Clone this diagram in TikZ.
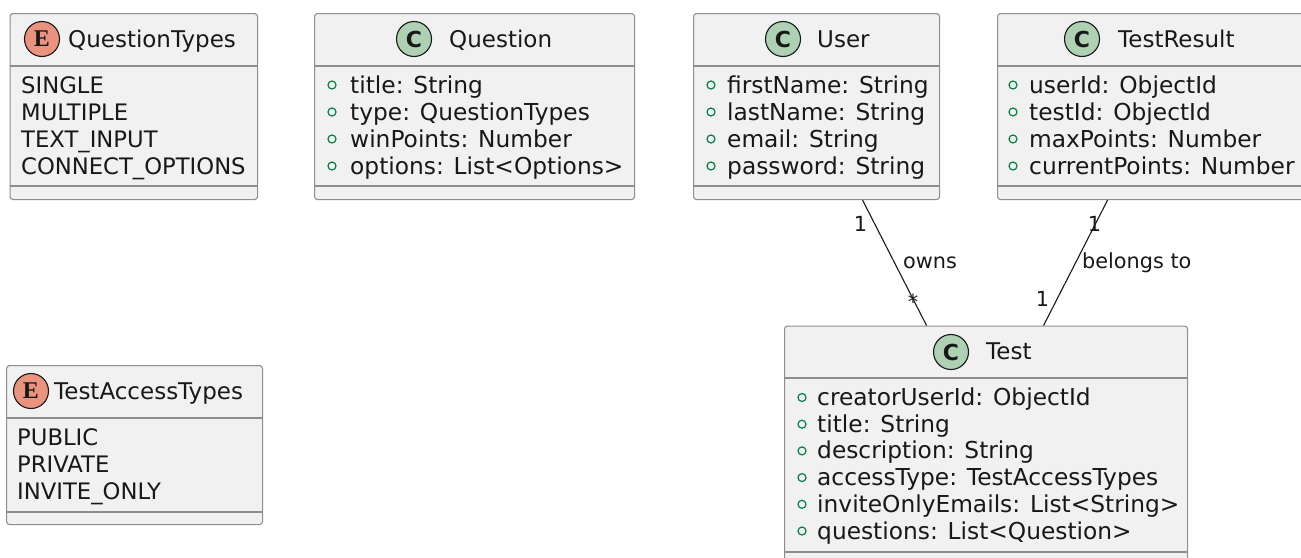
\documentclass[tikz,border=0pt]{standalone}
\usepackage{fontspec}
\setmainfont{DejaVu Sans}
\newfontfamily\spotfontC{DejaVu Sans}
\newfontfamily\spotfontE{Liberation Serif}

\definecolor{boxfill}{HTML}{F1F1F1}
\definecolor{boxline}{HTML}{8E8E8E}
\definecolor{ink}{HTML}{181818}
\definecolor{classspot}{HTML}{ADD1B2}
\definecolor{enumspot}{HTML}{EB937F}
\definecolor{visgreen}{HTML}{038048}

\tikzset{
  classbox/.style={draw=boxline, fill=boxfill, line width=1.1pt,
    rounded corners=3pt, inner sep=0pt, anchor=north west},
  sepline/.style={draw=boxline, line width=1.1pt},
  spot/.style={circle, draw=ink, line width=1.1pt, minimum size=35pt,
    inner sep=0pt, text=ink},
  cspot/.style={spot, fill=classspot, font=\spotfontC\bfseries\fontsize{22}{22}\selectfont},
  espot/.style={spot, fill=enumspot, font=\spotfontE\bfseries\fontsize{24}{24}\selectfont},
  classname/.style={anchor=base west, inner sep=0pt, text=ink,
    font=\fontsize{23}{27}\selectfont},
  member/.style={anchor=base west, inner sep=0pt, text=ink,
    font=\fontsize{23.3}{27}\selectfont},
  enumval/.style={anchor=base west, inner sep=0pt, text=ink,
    font=\fontsize{22.7}{27}\selectfont},
  vis/.style={circle, draw=visgreen, line width=1.2pt, minimum size=8pt, inner sep=0pt},
  assoc/.style={draw=ink, line width=1.1pt},
  rolelabel/.style={inner sep=0pt, text=ink, font=\fontsize{20.8}{24}\selectfont},
}

\begin{document}
\begin{tikzpicture}[x=1pt, y=-1pt]
\useasboundingbox (0,0) rectangle (1301,557);
\clip (0,0) rectangle (1301,557);

% ---------- enum QuestionTypes ----------
\node[classbox, minimum width=247.5pt, minimum height=186pt] (qtypes) at (9.5,13) {};
\draw[sepline] (qtypes.west |- 0,66) -- (qtypes.east |- 0,66);
\draw[sepline] (qtypes.west |- 0,186) -- (qtypes.east |- 0,186);
\node[espot] (qtypesspot) at (42,39) {E};
\node[classname] (qtypesname) at (68,47) {QuestionTypes};
\foreach \v [count=\i from 0] in {SINGLE, MULTIPLE, TEXT\_INPUT, CONNECT\_OPTIONS}
  \node[enumval] (qtypesv\i) at (21,93+27*\i) {\v};

% ---------- class Question ----------
\node[classbox, minimum width=320pt, minimum height=186pt] (question) at (314,13) {};
\draw[sepline] (question.west |- 0,66) -- (question.east |- 0,66);
\draw[sepline] (question.west |- 0,186) -- (question.east |- 0,186);
\node[cspot] (questionspot) at (414,39) {C};
\node[classname] (questionname) at (449,47) {Question};
\foreach \m [count=\i from 0] in {title: String, type: QuestionTypes, winPoints: Number, options: List<Options>}{
  \node[vis] (questionvis\i) at (332,85+27*\i) {};
  \node[member] (questionm\i) at (350,93+27*\i) {\m};
}

% ---------- class User ----------
\node[classbox, minimum width=246pt, minimum height=186pt] (user) at (693,13) {};
\draw[sepline] (user.west |- 0,66) -- (user.east |- 0,66);
\draw[sepline] (user.west |- 0,186) -- (user.east |- 0,186);
\node[cspot] (userspot) at (783,39) {C};
\node[classname] (username) at (817,47) {User};
\foreach \m [count=\i from 0] in {firstName: String, lastName: String, email: String, password: String}{
  \node[vis] (uservis\i) at (711,85+27*\i) {};
  \node[member] (userm\i) at (727,93+27*\i) {\m};
}

% ---------- class TestResult ----------
\node[classbox, minimum width=320pt, minimum height=186pt] (result) at (997,13) {};
\draw[sepline] (result.west |- 0,66) -- (result.east |- 0,66);
\draw[sepline] (result.west |- 0,186) -- (result.east |- 0,186);
\node[cspot] (resultspot) at (1082,39) {C};
\node[classname] (resultname) at (1118,47) {TestResult};
\foreach \m [count=\i from 0] in {userId: ObjectId, testId: ObjectId, maxPoints: Number, currentPoints: Number}{
  \node[vis] (resultvis\i) at (1013,85+27*\i) {};
  \node[member] (resultm\i) at (1029,93+27*\i) {\m};
}

% ---------- enum TestAccessTypes ----------
\node[classbox, minimum width=256pt, minimum height=159pt] (access) at (6,365) {};
\draw[sepline] (access.west |- 0,418) -- (access.east |- 0,418);
\draw[sepline] (access.west |- 0,512) -- (access.east |- 0,512);
\node[espot] (accessspot) at (31,391) {E};
\node[classname] (accessname) at (54,399) {TestAccessTypes};
\foreach \v [count=\i from 0] in {PUBLIC, PRIVATE, INVITE\_ONLY}
  \node[enumval] (accessv\i) at (17,445+27*\i) {\v};

% ---------- class Test ----------
\node[classbox, minimum width=403pt, minimum height=240pt] (test) at (784,325.5) {};
\draw[sepline] (test.west |- 0,378) -- (test.east |- 0,378);
\draw[sepline] (test.west |- 0,552) -- (test.east |- 0,552);
\node[cspot] (testspot) at (951,352) {C};
\node[classname] (testname) at (986,359) {Test};
\foreach \m [count=\i from 0] in {creatorUserId: ObjectId, title: String, description: String,
    accessType: TestAccessTypes, inviteOnlyEmails: List<String>, questions: List<Question>}{
  \node[vis] (testvis\i) at (802,397.5+26.7*\i) {};
  \node[member] (testm\i) at (817,405.5+26.7*\i) {\m};
}

% ---------- associations ----------
\draw[assoc] ([xshift=46pt]user.south) -- ([xshift=-59.5pt]test.north);
\draw[assoc] ([xshift=-50pt]result.south) -- ([xshift=57.5pt]test.north);

\node[rolelabel, anchor=base] (ownsfrom) at (860.5,231) {1};
\node[rolelabel, anchor=base west] (ownslabel) at (903,268) {owns};
\node[rolelabel, anchor=base] (ownsto) at (913,309) {*};
\node[rolelabel, anchor=base] (belongsfrom) at (1094.5,231) {1};
\node[rolelabel, anchor=base west] (belongslabel) at (1082,268) {belongs to};
\node[rolelabel, anchor=base] (belongsto) at (1042.5,306) {1};
\end{tikzpicture}
\end{document}
